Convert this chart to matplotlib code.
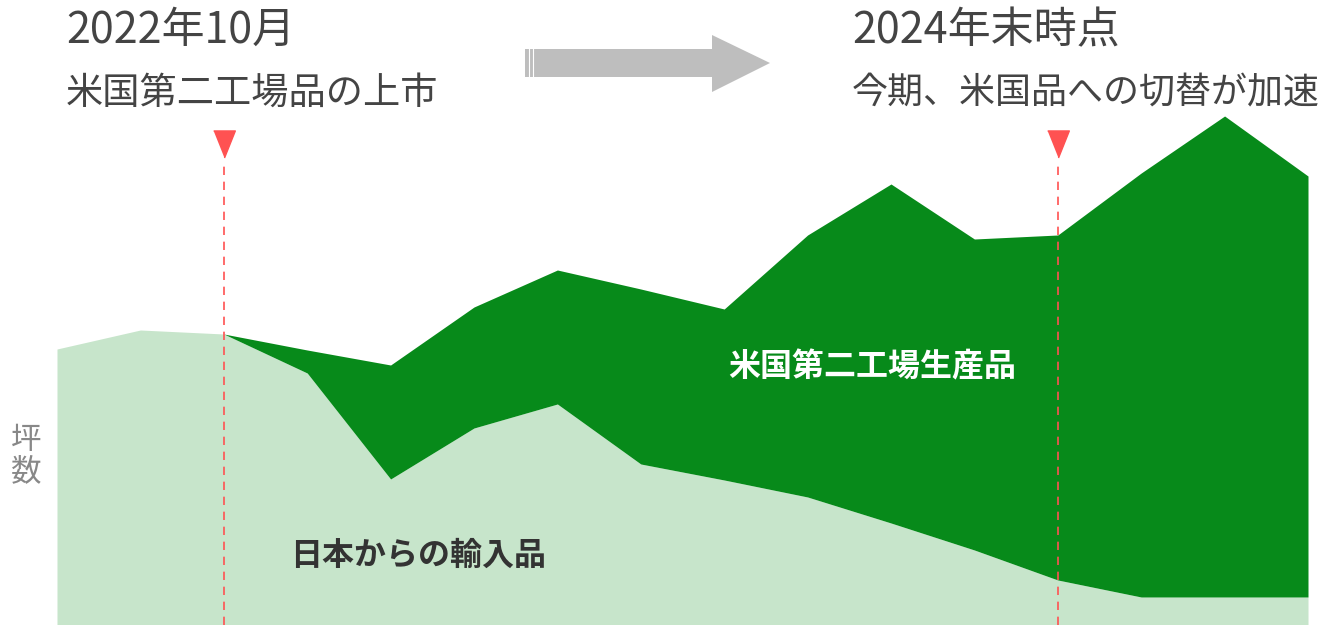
import numpy as np
import matplotlib.pyplot as plt
from matplotlib.patches import Polygon

plt.rcParams["font.family"] = ["Noto Sans CJK JP", "DejaVu Sans"]

# 坪数 (arbitrary units), 16 periods
japan = [276, 295, 291, 252, 146, 197, 221, 161, 145, 128, 102, 75, 45, 28, 28, 28]
us_plant2 = [0, 0, 0, 23, 114, 121, 134, 175, 171, 262, 339, 311, 345, 424, 481, 421]
launch_idx = 2
end2024_idx = 12

title_left = ["2022年10月", "米国第二工場品の上市"]
title_right = ["2024年末時点", "今期、米国品への切替が加速"]
label_us = "米国第二工場生産品"
label_jp = "日本からの輸入品"
ylabel = "坪\n数"

W, H = 1325, 625
fig = plt.figure(figsize=(W / 100, H / 100), dpi=100)
ax = fig.add_axes([57 / W, 0, (1308 - 57) / W, 1])
ax.set_xlim(0, len(japan) - 1)
ax.set_ylim(0, H)
ax.axis("off")

x = np.arange(len(japan))
jp = np.array(japan)
us = np.array(us_plant2)
ax.fill_between(x, 0, jp, color="#c7e5cb", lw=0)
ax.fill_between(x, jp, jp + us, color="#078a1a", lw=0)

# marker lines
tri = [(-0.4, 0.5), (0.4, 0.5), (0, -0.5)]
for i in [launch_idx, end2024_idx]:
    ax.plot([i, i], [0, 465], color="#ff5252", lw=1.2, ls=(0, (5, 4)))
    ax.plot(i, 481, marker=tri, ms=19.5, color="#ff5252", clip_on=False)


def px(xp, yp):
    return xp / W, 1 - yp / H


tc = "#444444"
fig.text(*px(66, 31), title_left[0], fontsize=31, color=tc, va="center")
fig.text(*px(66, 93), title_left[1], fontsize=26.8, color=tc, va="center")
fig.text(*px(852, 31), title_right[0], fontsize=31, color=tc, va="center")
fig.text(*px(852, 93), title_right[1], fontsize=25.9, color=tc, va="center")

fig.text(*px(872, 367), label_us, fontsize=23, color="white",
         fontweight="bold", ha="center", va="center")
fig.text(*px(418, 556), label_jp, fontsize=23, color="#333333",
         fontweight="bold", ha="center", va="center")
fig.text(*px(26, 456), ylabel, fontsize=22, color="#888888",
         ha="center", va="center", linespacing=1.0)

# gray arrow
arrow = [(525, 49), (712, 49), (712, 35), (770, 63), (712, 92), (712, 77), (525, 77)]
fig.patches.append(Polygon([px(a, b) for a, b in arrow], closed=True,
                           transform=fig.transFigure, color="#bebebe", lw=0))
for sx in [528.5, 532.5]:
    fig.lines.append(plt.Line2D([sx / W, sx / W], [1 - 49 / H, 1 - 77 / H],
                                transform=fig.transFigure, color="white", lw=0.8))

fig.savefig("out.png", dpi=100)
